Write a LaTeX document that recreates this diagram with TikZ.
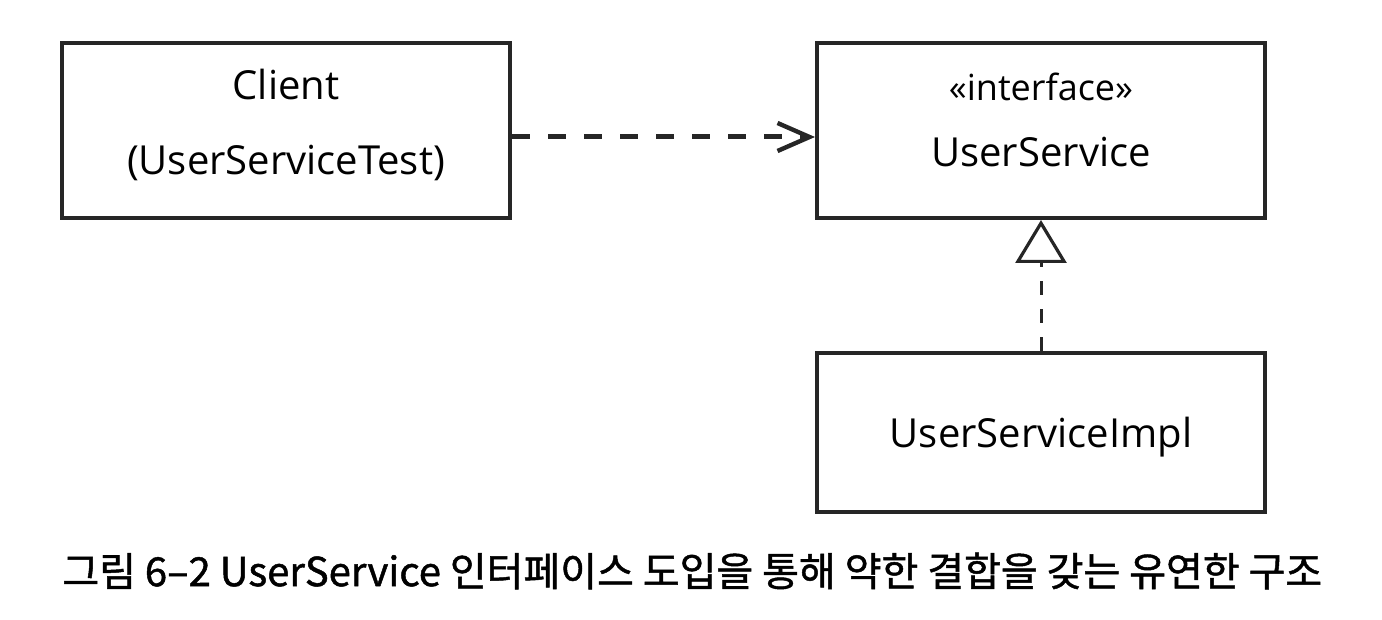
\documentclass[tikz,border=0pt]{standalone}
\usepackage{fontspec}
\setmainfont{Open Sans}
\newfontfamily\cjk{Noto Sans CJK KR}[FakeBold=1.2]
\usetikzlibrary{arrows.meta}
\tikzset{
  classbox/.style={draw=black!85, line width=2pt, minimum width=224pt, inner sep=0pt, align=center, font=\fontsize{20}{37.5}\selectfont},
  dep/.style={draw=black!85, line width=2.5pt, dash pattern=on 9pt off 9pt, -{Straight Barb[length=16pt, width=14pt, line width=2.2pt]}},
  real/.style={draw=black!85, line width=1.5pt, dash pattern=on 7pt off 7pt, -{Triangle[open, length=21.5pt, width=25.5pt, line width=1.6pt]}},
}
\begin{document}
\begin{tikzpicture}[x=0.5pt,y=-0.5pt]
\useasboundingbox (0,0) rectangle (1382,620);
\node[classbox, minimum height=87.5pt, text depth=9pt] (client) at (286,130.5) {Client\\(UserServiceTest)};
\node[classbox, minimum height=87.5pt, text depth=11pt, font=\fontsize{20}{33}\selectfont] (us) at (1041,130.5) {{\fontsize{18}{18}\selectfont «interface»}\\UserService};
\node[classbox, minimum height=79.5pt, text depth=0pt] (impl) at (1041,432.5) {UserServiceImpl};
\draw[dep] (client.east |- 0,137) -- (us.west |- 0,137);
\draw[real] (impl.north) -- (us.south);
\node[anchor=west, inner sep=0pt, font=\cjk\fontsize{20}{22}\selectfont] (cap) at (62,571) {그림 6–2 UserService 인터페이스 도입을 통해 약한 결합을 갖는 유연한 구조};
\end{tikzpicture}
\end{document}
